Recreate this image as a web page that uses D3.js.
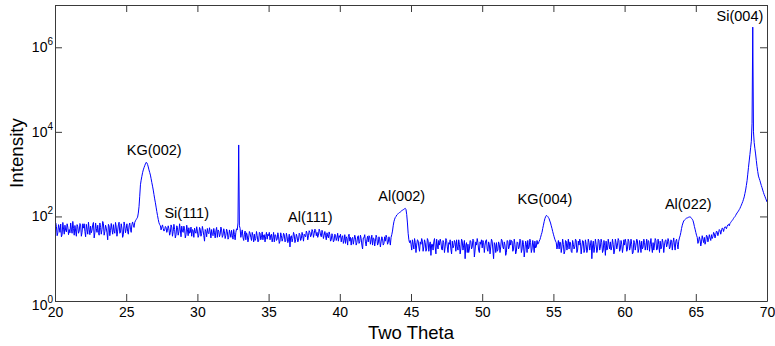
<!DOCTYPE html>
<html>
<head>
<meta charset="utf-8">
<script src="https://cdn.jsdelivr.net/npm/d3@7"></script>
<style>
  body { margin: 0; background: #fff; }
  svg { display: block; font-family: "Liberation Sans", Arial, sans-serif; }
</style>
</head>
<body>
<svg id="chart" width="775" height="346"></svg>
<script>
// sampling grid of the scan (degrees 2-theta): readings at x.0 .. x.9 and the half steps x.05 .. x.95
const thetaStart = 20;
const thetaStep = 0.1;

// intensity at the whole tenth steps, one row per degree
const intensity = [
  47, 58, 41, 54, 66, 37, 50, 62, 43, 56,          // 20
  49, 70, 40, 52, 61, 34, 57, 45, 64, 42,          // 21
  53, 44, 65, 38, 50, 59, 47, 72, 41, 52,          // 22
  62, 36, 55, 49, 68, 44, 53, 28, 59, 47,          // 23
  50, 64, 40, 56, 45, 73, 42, 53, 37, 60,          // 24
  51, 44, 60, 50, 64, 62, 72, 84, 96, 170,         // 25
  560, 890, 1260, 1580, 1900, 1700, 1260, 950, 630, 420, // 26
  260, 166, 105, 71, 60, 56, 52, 48, 55, 47,       // 27
  51, 42, 56, 44, 49, 37, 55, 43, 48, 59,          // 28
  42, 51, 37, 48, 54, 42, 34, 46, 53, 40,          // 29
  45, 36, 50, 40, 47, 26, 44, 52, 39, 43,          // 30
  49, 35, 41, 46, 32, 45, 38, 48, 36, 43,          // 31
  36, 44, 32, 40, 47, 29, 37, 42, 48, 4900,        // 32
  52, 40, 32, 38, 28, 36, 31, 40, 27, 35,          // 33
  38, 30, 35, 26, 40, 32, 28, 37, 34, 29,          // 34
  35, 28, 38, 31, 25, 36, 29, 33, 26, 35,          // 35
  30, 37, 26, 33, 28, 19, 35, 30, 37, 28,          // 36
  33, 27, 37, 30, 35, 38, 33, 40, 35, 42,          // 37
  36, 45, 39, 47, 42, 36, 45, 33, 41, 36,          // 38
  35, 41, 31, 37, 28, 35, 27, 36, 31, 26,          // 39
  32, 25, 35, 27, 23, 30, 34, 26, 21, 32,          // 40
  28, 31, 24, 35, 25, 30, 17, 31, 25, 28,          // 41
  25, 33, 28, 21, 30, 26, 32, 23, 28, 25,          // 42
  30, 23, 26, 32, 24, 28, 32, 45, 75, 95,          // 43
  108, 116, 124, 132, 140, 148, 155, 110, 40, 24,  // 44
  22, 28, 17, 24, 21, 27, 15, 22, 26, 19,          // 45
  24, 17, 27, 21, 12, 22, 25, 19, 29, 17,          // 46
  21, 25, 16, 24, 19, 27, 14, 22, 17, 26,          // 47
  20, 24, 28, 16, 22, 17, 26, 21, 10, 24,          // 48
  22, 17, 26, 19, 27, 16, 21, 24, 14, 22,          // 49
  18, 24, 21, 28, 15, 22, 19, 26, 10, 21,          // 50
  24, 16, 22, 19, 27, 17, 21, 14, 26, 19,          // 51
  21, 26, 17, 22, 15, 24, 19, 27, 17, 22,          // 52
  16, 22, 27, 19, 24, 17, 21, 26, 19, 22,          // 53
  26, 32, 42, 62, 88, 105, 100, 88, 70, 52,        // 54
  38, 29, 24, 21, 17, 24, 19, 22, 15, 26,          // 55
  21, 17, 24, 14, 22, 19, 27, 16, 21, 24,          // 56
  19, 26, 16, 22, 17, 24, 21, 10, 26, 19,          // 57
  22, 17, 27, 19, 24, 16, 21, 26, 17, 22,          // 58
  25, 19, 22, 16, 24, 21, 27, 17, 22, 19,          // 59
  21, 24, 17, 26, 19, 22, 14, 24, 21, 27,          // 60
  17, 22, 26, 19, 24, 21, 16, 26, 22, 19,          // 61
  24, 21, 27, 17, 22, 26, 19, 24, 21, 28,          // 62
  22, 26, 19, 27, 24, 21, 26, 22, 26, 35,          // 63
  52, 70, 82, 88, 92, 96, 98, 90, 80, 58,          // 64
  42, 32, 26, 28, 25, 29, 32, 26, 34, 29,          // 65
  31, 37, 33, 39, 37, 43, 41, 47, 45, 52,          // 66
  52, 56, 58, 65, 68, 76, 84, 95, 106, 121,        // 67
  135, 155, 185, 225, 290, 420, 700, 1450, 2900, 6000, // 68
  3000000, 5600, 3000, 1500, 900, 710, 540, 420, 330, 270, // 69
  220                                              // 70
];

// intensity at the half steps (x.05, x.15 ... x.95), one row per degree
const intensityHalf = [
  70, 35, 64, 42, 33, 72, 38, 47, 67, 37,          // 20
  41, 50, 76, 36, 45, 64, 40, 68, 34, 67,          // 21
  67, 33, 50, 73, 37, 41, 64, 31, 70, 42,          // 22
  42, 70, 38, 76, 36, 62, 41, 65, 35, 68,          // 23
  38, 45, 72, 34, 63, 40, 67, 32, 74, 41,          // 24
  67, 38, 70, 42, 74, 55, 79, 90, 120, 300,        // 25
  720, 1080, 1420, 1750, 1850, 1480, 1100, 780, 520, 330, // 26
  210, 130, 85, 64, 48, 63, 45, 58, 42, 60,        // 27
  36, 63, 34, 65, 31, 60, 36, 67, 33, 45,          // 28
  59, 31, 62, 35, 40, 56, 49, 32, 43, 57,          // 29
  32, 55, 34, 58, 35, 49, 33, 41, 54, 31,          // 30
  37, 52, 31, 55, 48, 33, 56, 32, 51, 30,          // 31
  50, 29, 48, 32, 36, 49, 28, 51, 70, 60,          // 32
  32, 48, 27, 45, 41, 25, 44, 32, 42, 25,          // 33
  27, 44, 25, 42, 28, 43, 36, 25, 42, 38,          // 34
  42, 36, 25, 42, 37, 27, 41, 23, 41, 26,          // 35
  40, 25, 40, 24, 38, 33, 25, 42, 24, 38,          // 36
  25, 40, 27, 42, 26, 35, 45, 28, 46, 33,          // 37
  49, 32, 50, 35, 32, 50, 36, 47, 30, 44,          // 38
  28, 34, 43, 26, 39, 25, 38, 27, 40, 35,          // 39
  38, 32, 23, 37, 33, 21, 38, 32, 30, 22,          // 40
  36, 21, 33, 23, 36, 21, 31, 37, 20, 34,          // 41
  35, 22, 36, 31, 20, 36, 21, 33, 19, 33,          // 42
  21, 33, 36, 22, 33, 21, 37, 60, 86, 100,         // 43
  112, 121, 127, 137, 143, 152, 145, 70, 28, 27,   // 44
  16, 22, 30, 14, 28, 19, 25, 30, 15, 28,          // 45
  15, 30, 15, 25, 22, 16, 30, 13, 21, 27,          // 46
  29, 17, 27, 14, 30, 19, 24, 28, 13, 18,          // 47
  27, 15, 19, 28, 13, 29, 16, 27, 21, 14,          // 48
  14, 27, 17, 29, 11, 25, 30, 16, 25, 28,          // 49
  27, 14, 27, 17, 25, 13, 29, 16, 24, 14,          // 50
  15, 25, 14, 29, 19, 25, 12, 27, 17, 28,          // 51
  27, 15, 29, 13, 25, 17, 29, 14, 27, 11,          // 52
  26, 14, 17, 29, 14, 27, 14, 18, 27, 23,          // 53
  28, 37, 52, 75, 98, 104, 94, 78, 60, 44,         // 54
  33, 26, 17, 27, 25, 14, 29, 13, 27, 16,          // 55
  29, 25, 15, 27, 17, 29, 14, 26, 29, 13,          // 56
  27, 14, 28, 14, 29, 16, 27, 20, 14, 29,          // 57
  14, 29, 16, 29, 14, 27, 12, 16, 29, 17,          // 58
  16, 29, 13, 29, 17, 30, 15, 27, 14, 28,          // 59
  29, 15, 29, 16, 29, 13, 27, 16, 29, 14,          // 60
  27, 14, 17, 29, 16, 29, 27, 15, 30, 14,          // 61
  16, 30, 16, 29, 14, 17, 29, 14, 27, 19,          // 62
  30, 17, 28, 16, 31, 16, 29, 17, 31, 42,          // 63
  62, 78, 85, 91, 94, 97, 95, 86, 70, 50,          // 64
  36, 23, 33, 20, 35, 24, 22, 36, 25, 37,          // 65
  27, 30, 42, 31, 45, 35, 49, 38, 53, 44,          // 66
  57, 51, 63, 60, 72, 80, 90, 99, 114, 128,        // 67
  145, 170, 205, 255, 350, 540, 1000, 2050, 4200, 16000, // 68
  10000, 4000, 2100, 1150, 800, 620, 480, 370, 300, 245  // 69
];

// peak annotations: text, anchor 2-theta and anchor intensity (text baseline)
const peakNames = ["KG(002)", "Si(111)", "Al(111)", "Al(002)", "KG(004)", "Al(022)", "Si(004)"];
const peakTheta = [26.97, 29.25, 37.93, 44.35, 54.41, 64.47, 68.1];
const peakIntensity = [2830, 92, 74, 232, 197, 147, 4250000];

const xTicks = [20, 25, 30, 35, 40, 45, 50, 55, 60, 65, 70];
const yTicks = [1, 1e2, 1e4, 1e6];

const plot = { left: 55, right: 767, top: 5, bottom: 301 };

const svg = d3.select('#chart');

const x = d3.scaleLinear().domain([20, 70]).range([plot.left, plot.right]);
const y = d3.scaleLog().domain([1, 1e7]).range([plot.bottom, plot.top]);

// interleave the two sets of readings in 2-theta order
const points = [];
intensity.forEach(function(v, i) {
  points.push({ t: thetaStart + i * thetaStep, v: v });
  if (i < intensityHalf.length) {
    points.push({ t: thetaStart + (i + 0.5) * thetaStep, v: intensityHalf[i] });
  }
});

svg.append('clipPath').attr('id', 'clip')
  .append('rect')
  .attr('x', plot.left).attr('y', plot.top)
  .attr('width', plot.right - plot.left)
  .attr('height', plot.bottom - plot.top);

const line = d3.line()
  .x(function(d) { return x(d.t); })
  .y(function(d) { return y(d.v); });

svg.append('path')
  .datum(points)
  .attr('clip-path', 'url(#clip)')
  .attr('fill', 'none')
  .attr('stroke', '#0000ff')
  .attr('stroke-width', 1)
  .attr('d', line);

// axes, ticks pointing inward on all four sides
const axisColor = '#3a3a3a';

const gx = svg.append('g')
  .attr('transform', 'translate(0,' + plot.bottom + ')')
  .call(d3.axisBottom(x).tickValues(xTicks).tickSize(-7).tickSizeOuter(0).tickPadding(6).tickFormat(d3.format('d')));
const gxTop = svg.append('g')
  .attr('transform', 'translate(0,' + plot.top + ')')
  .call(d3.axisTop(x).tickValues(xTicks).tickSize(-7).tickSizeOuter(0).tickFormat(''));
const gy = svg.append('g')
  .attr('transform', 'translate(' + plot.left + ',0)')
  .call(d3.axisLeft(y).tickValues(yTicks).tickSize(-7).tickSizeOuter(0).tickFormat(''));
const gyRight = svg.append('g')
  .attr('transform', 'translate(' + plot.right + ',0)')
  .call(d3.axisRight(y).tickValues(yTicks).tickSize(-7).tickSizeOuter(0).tickFormat(''));

[gx, gxTop, gy, gyRight].forEach(function(g) {
  g.selectAll('path, line').attr('stroke', axisColor);
});
gx.selectAll('text')
  .attr('fill', '#000')
  .style('font-size', '14px')
  .style('font-family', '"Liberation Sans", Arial, sans-serif');

// y tick labels as 10 with a superscript exponent
const yLab = svg.append('g');
yTicks.forEach(function(v, i) {
  const t = yLab.append('text')
    .attr('x', plot.left - 2)
    .attr('y', y(v) + 5 + (i === 0 ? 4 : 0))
    .attr('text-anchor', 'end')
    .attr('font-size', 14)
    .attr('fill', '#000');
  t.append('tspan').text('10');
  t.append('tspan')
    .attr('dy', -7)
    .attr('font-size', 10)
    .text(Math.round(Math.log10(v)));
});

// peak labels
svg.append('g').selectAll('text')
  .data(peakNames)
  .enter()
  .append('text')
  .attr('x', function(d, i) { return x(peakTheta[i]); })
  .attr('y', function(d, i) { return y(peakIntensity[i]); })
  .attr('text-anchor', 'middle')
  .attr('font-size', 14.5)
  .attr('fill', '#000')
  .text(function(d) { return d; });

// axis titles
svg.append('text')
  .attr('x', (plot.left + plot.right) / 2)
  .attr('y', 339)
  .attr('text-anchor', 'middle')
  .attr('font-size', 18.5)
  .text('Two Theta');

svg.append('text')
  .attr('transform', 'translate(23,' + (plot.top + plot.bottom) / 2 + ') rotate(-90)')
  .attr('text-anchor', 'middle')
  .attr('font-size', 18.8)
  .text('Intensity');
</script>
</body>
</html>
